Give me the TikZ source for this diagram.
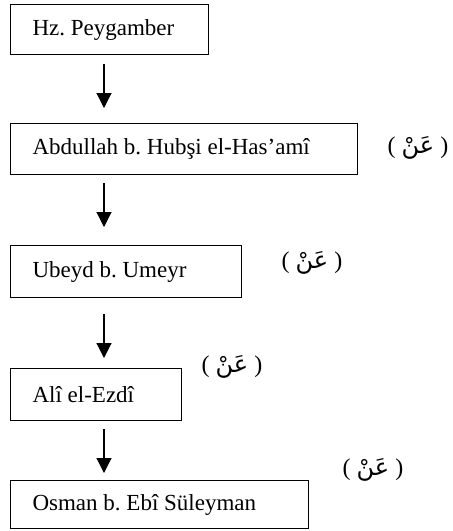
\documentclass[tikz,border=0pt]{standalone}
\usepackage{fontspec}
\setmainfont{Liberation Serif}
\newfontfamily\arabicfont[Script=Arabic]{DejaVu Sans}
\TeXXeTstate=1
\frenchspacing
\usepackage{tikz}
\usetikzlibrary{arrows.meta, positioning, calc}

\begin{document}
\begin{tikzpicture}[x=1pt, y=-1pt,
  ravi/.style={draw, line width=1.1pt, anchor=north west,
    inner xsep=22pt, inner ysep=0pt, font=\fontsize{23}{27}\selectfont},
  ok/.style={line width=1.1pt, -{Triangle[width=15pt,length=15pt]}},
  an/.style={font=\fontsize{24}{28}\selectfont}]
  \useasboundingbox (0,0) rectangle (453,531);

  % Chain of narrators
  \node[ravi, minimum height=50pt] (peygamber) at (10,4) {\makebox[154pt][l]{Hz. Peygamber}};
  \node[ravi, minimum height=51pt] (abdullah) at (10,123) {\makebox[303pt][l]{Abdullah b. Hubşi el-Has’amî}};
  \node[ravi, minimum height=52pt] (ubeyd) at (10,245) {\makebox[187pt][l]{Ubeyd b. Umeyr}};
  \node[ravi, minimum height=52pt] (ali) at (10,368) {\makebox[127pt][l]{Alî el-Ezdî}};
  \node[ravi, minimum height=48pt] (osman) at (10,480) {\makebox[254pt][l]{Osman b. Ebî Süleyman}};

  % Arrows between the boxes
  \draw[ok] ([xshift=94pt,yshift=-9pt]peygamber.south west) -- ([xshift=94pt,yshift=15pt]abdullah.north west);
  \draw[ok] ([xshift=94pt,yshift=-8pt]abdullah.south west) -- ([xshift=94pt,yshift=18pt]ubeyd.north west);
  \draw[ok] ([xshift=94pt,yshift=-16pt]ubeyd.south west) -- ([xshift=94pt,yshift=10pt]ali.north west);
  \draw[ok] ([xshift=94pt,yshift=-8pt]ali.south west) -- ([xshift=94pt,yshift=7pt]osman.north west);

  % "an" labels
  \node[an] (an1) at (418,148) {( {\arabicfont\beginR عَنْ\endR} )};
  \node[an] (an2) at (312,263) {( {\arabicfont\beginR عَنْ\endR} )};
  \node[an] (an3) at (232,367) {( {\arabicfont\beginR عَنْ\endR} )};
  \node[an] (an4) at (373,470) {( {\arabicfont\beginR عَنْ\endR} )};
\end{tikzpicture}
\end{document}
